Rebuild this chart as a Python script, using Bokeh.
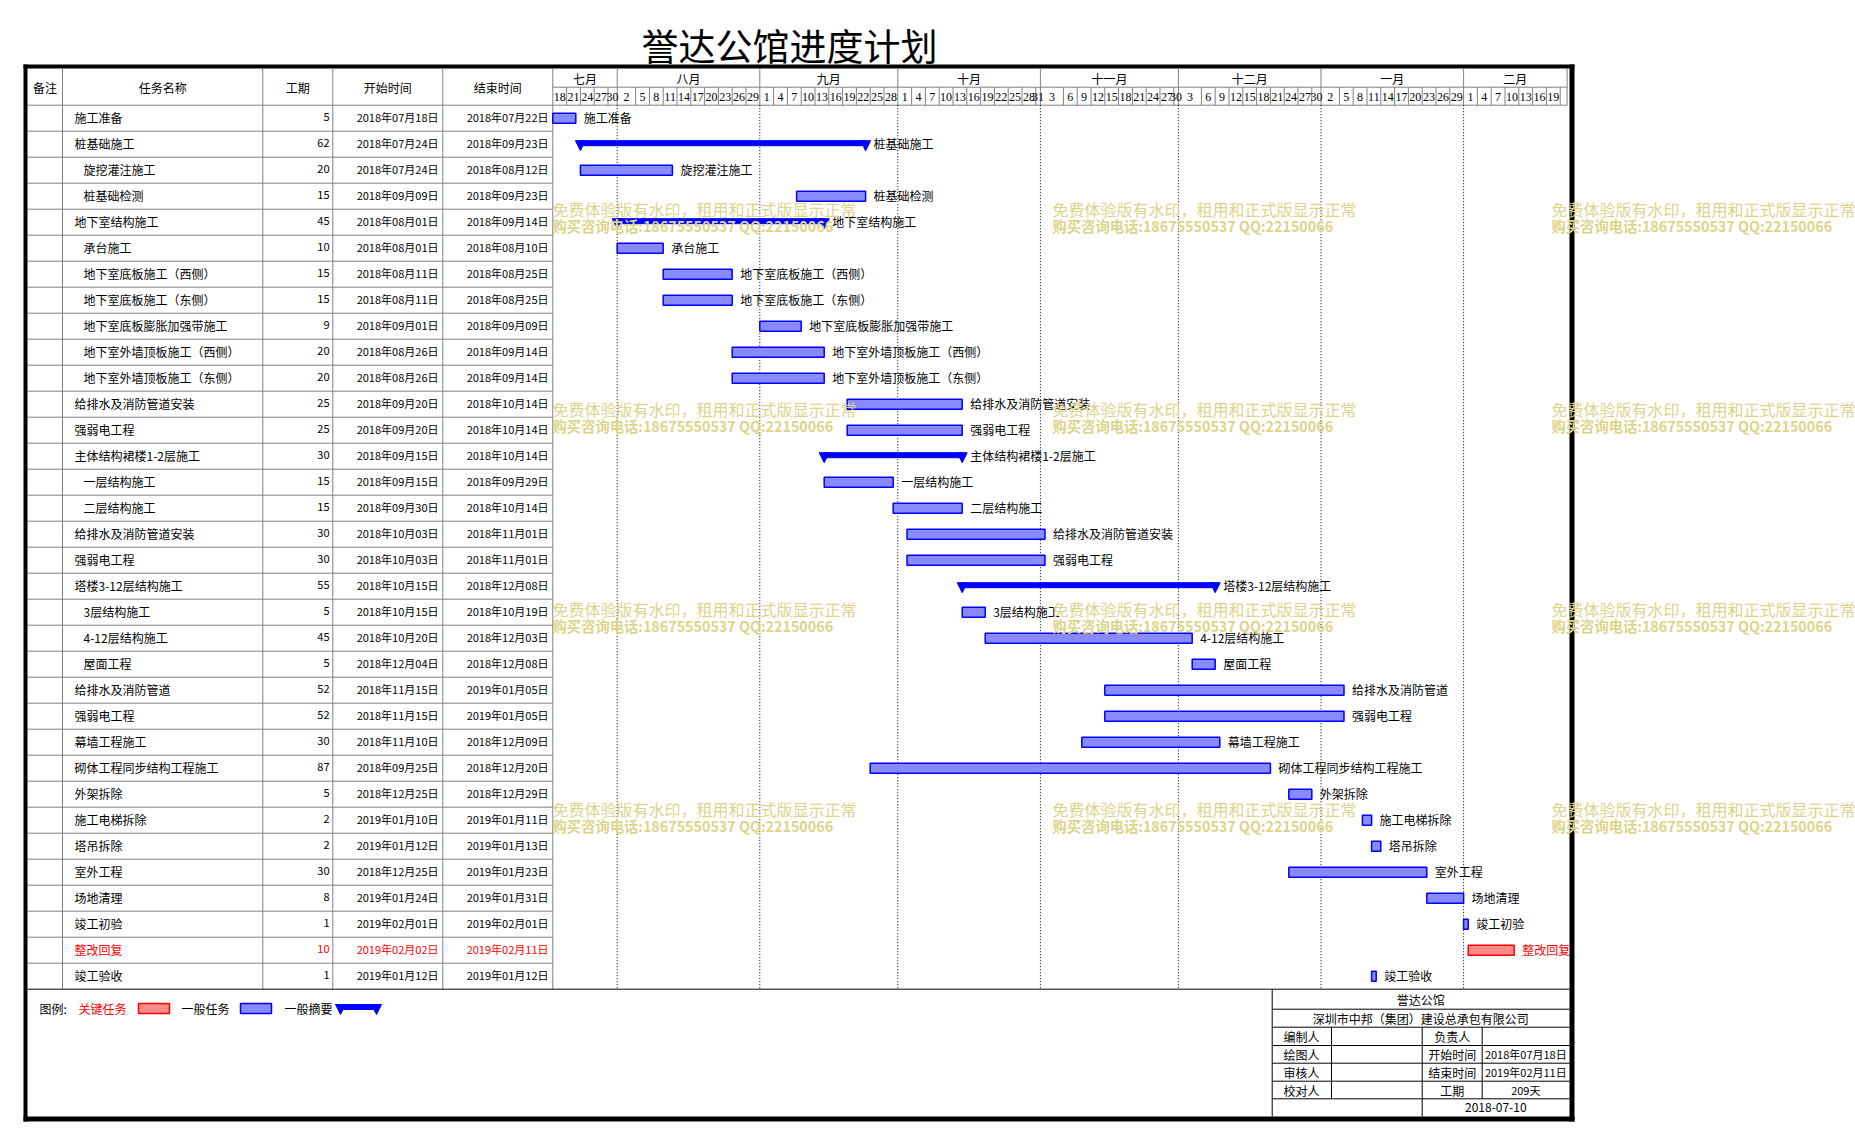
import datetime as dt
from bokeh.plotting import figure
from bokeh.models import Range1d
from bokeh.embed import file_html
from bokeh.resources import INLINE
from bokeh.core.properties import value

# ---------------- data ----------------
chart_title = "誉达公馆进度计划"
header_cols = ["备注", "任务名称", "工期", "开始时间", "结束时间"]

task_names = [
    "施工准备", "桩基础施工", "旋挖灌注施工", "桩基础检测", "地下室结构施工", "承台施工",
    "地下室底板施工（西侧）", "地下室底板施工（东侧）", "地下室底板膨胀加强带施工",
    "地下室外墙顶板施工（西侧）", "地下室外墙顶板施工（东侧）", "给排水及消防管道安装",
    "强弱电工程", "主体结构裙楼1-2层施工", "一层结构施工", "二层结构施工",
    "给排水及消防管道安装", "强弱电工程", "塔楼3-12层结构施工", "3层结构施工",
    "4-12层结构施工", "屋面工程", "给排水及消防管道", "强弱电工程", "幕墙工程施工",
    "砌体工程同步结构工程施工", "外架拆除", "施工电梯拆除", "塔吊拆除", "室外工程",
    "场地清理", "竣工初验", "整改回复", "竣工验收",
]
task_levels = [0, 0, 1, 1, 0, 1, 1, 1, 1, 1, 1, 0, 0, 0, 1, 1, 0, 0, 0, 1,
               1, 1, 0, 0, 0, 0, 0, 0, 0, 0, 0, 0, 0, 0]
task_kinds = ["task", "summary", "task", "task", "summary", "task", "task", "task",
              "task", "task", "task", "task", "task", "summary", "task", "task",
              "task", "task", "summary", "task", "task", "task", "task", "task",
              "task", "task", "task", "task", "task", "task", "task", "task",
              "critical", "task"]
durations = [5, 62, 20, 15, 45, 10, 15, 15, 9, 20, 20, 25, 25, 30, 15, 15, 30, 30,
             55, 5, 45, 5, 52, 52, 30, 87, 5, 2, 2, 30, 8, 1, 10, 1]
start_dates = [
    "2018-07-18", "2018-07-24", "2018-07-24", "2018-09-09", "2018-08-01", "2018-08-01",
    "2018-08-11", "2018-08-11", "2018-09-01", "2018-08-26", "2018-08-26", "2018-09-20",
    "2018-09-20", "2018-09-15", "2018-09-15", "2018-09-30", "2018-10-03", "2018-10-03",
    "2018-10-15", "2018-10-15", "2018-10-20", "2018-12-04", "2018-11-15", "2018-11-15",
    "2018-11-10", "2018-09-25", "2018-12-25", "2019-01-10", "2019-01-12", "2018-12-25",
    "2019-01-24", "2019-02-01", "2019-02-02", "2019-01-12",
]
end_dates = [
    "2018-07-22", "2018-09-23", "2018-08-12", "2018-09-23", "2018-09-14", "2018-08-10",
    "2018-08-25", "2018-08-25", "2018-09-09", "2018-09-14", "2018-09-14", "2018-10-14",
    "2018-10-14", "2018-10-14", "2018-09-29", "2018-10-14", "2018-11-01", "2018-11-01",
    "2018-12-08", "2018-10-19", "2018-12-03", "2018-12-08", "2019-01-05", "2019-01-05",
    "2018-12-09", "2018-12-20", "2018-12-29", "2019-01-11", "2019-01-13", "2019-01-23",
    "2019-01-31", "2019-02-01", "2019-02-11", "2019-01-12",
]
month_names = ["七月", "八月", "九月", "十月", "十一月", "十二月", "一月", "二月"]
month_starts = ["2018-07-18", "2018-08-01", "2018-09-01", "2018-10-01", "2018-11-01",
                "2018-12-01", "2019-01-01", "2019-02-01"]
timeline_start = "2018-07-18"
timeline_days = 220.5
tick_step_days = 3

legend_title = "图例:"
legend_labels = ["关键任务", "一般任务", "一般摘要"]

info_title = "誉达公馆"
info_company = "深圳市中邦（集团）建设总承包有限公司"
info_left_labels = ["编制人", "绘图人", "审核人", "校对人"]
info_right_labels = ["负责人", "开始时间", "结束时间", "工期"]
info_right_values = ["", "2018年07月18日", "2019年02月11日", "209天"]
info_date = "2018-07-10"

watermark_line1 = "免费体验版有水印，租用和正式版显示正常"
watermark_line2 = "购买咨询电话:18675550537 QQ:22150066"

# ---------------- layout helpers ----------------
FONT = value("Noto Sans CJK SC")
FIG_W, FIG_H = 1855, 1132
ORG = 0
X0, PPD = 552.3, 4.6       # screen x of timeline start, px per day
Y0, RH = 104.7, 26.0       # screen y of first row top, row height


def dx(px):
    return (px - X0) / PPD


def ry(py):
    return (py - Y0) / RH


def pd(s):
    return dt.date.fromisoformat(s)


T0 = pd(timeline_start)


def day(s):
    return (pd(s) - T0).days


def fmt(s):
    d = pd(s)
    return f"{d.year}年{d.month:02d}月{d.day:02d}日"


p = figure(width=FIG_W, height=FIG_H, x_range=Range1d(dx(ORG), dx(ORG + FIG_W)),
           y_range=Range1d(ry(ORG + FIG_H), ry(ORG)), output_backend="svg",
           toolbar_location=None, x_axis_type=None, y_axis_type=None, min_border=0)
p.grid.visible = False
p.outline_line_color = None
p.background_fill_color = "white"
p.border_fill_color = "white"

# ---------------- title ----------------
p.text(x=[dx(789)], y=[ry(44)], text=[chart_title], text_font=FONT, text_font_size="37px",
       text_align="center", text_baseline="middle", text_color="black")

n = len(task_names)
HEAD_TOP, HEAD_MID = 68.3, 86.7
TABLE_BOT = Y0 + n * RH
col_edges = [27, 62, 262.3, 332.3, 442.3, 552.3]

GRAY = "#808080"
# table vertical lines
vx = [dx(c) for c in col_edges[1:]]
p.segment(x0=vx, y0=[ry(HEAD_TOP)] * len(vx), x1=vx, y1=[ry(TABLE_BOT)] * len(vx),
          line_color=GRAY, line_width=1)
# table horizontal lines
hy = [i for i in range(n)]
p.segment(x0=[dx(27)] * n, y0=hy, x1=[dx(X0)] * n, y1=hy, line_color=GRAY, line_width=1)
p.segment(x0=[dx(27)], y0=[n], x1=[dx(1569)], y1=[n], line_color="black", line_width=1)
# header horizontal lines in timeline
p.segment(x0=[0, 0], y0=[ry(HEAD_MID), 0], x1=[timeline_days, timeline_days],
          y1=[ry(HEAD_MID), 0], line_color=GRAY, line_width=1)
p.segment(x0=[timeline_days], y0=[ry(HEAD_TOP)], x1=[timeline_days], y1=[0],
          line_color=GRAY, line_width=1)

# month header
ms_days = [day(s) for s in month_starts]
me_days = ms_days[1:] + [timeline_days]
p.segment(x0=ms_days[1:], y0=[ry(HEAD_TOP)] * 7, x1=ms_days[1:], y1=[ry(HEAD_MID)] * 7,
          line_color=GRAY, line_width=1)
p.text(x=[(a + b) / 2 for a, b in zip(ms_days, me_days)], y=[ry(77.8)] * len(month_names),
       text=month_names, text_font=FONT, text_font_size="12px", text_align="center",
       text_baseline="middle", text_color="black")

# day ticks
tick_days = list(range(0, int(timeline_days) + 1, tick_step_days))
cell_edges = []
tick_label_x, tick_label_t = [], []
for k, td in enumerate(tick_days):
    d = T0 + dt.timedelta(days=td)
    nxt = td + tick_step_days
    left = td
    if d.day <= tick_step_days and td > 0:
        left = day(f"{d.year}-{d.month:02d}-01")
    right = min(nxt, timeline_days)
    nd = T0 + dt.timedelta(days=nxt)
    if nd.day <= tick_step_days:
        right = min(right, day(f"{nd.year}-{nd.month:02d}-01"))
    if nxt <= timeline_days:
        tick_label_x.append((left + right) / 2)
        tick_label_t.append(str(d.day))
    cell_edges.append(right)
cell_edges = sorted(set(e for e in cell_edges if 0 < e < timeline_days) | set(ms_days[1:]))
p.segment(x0=cell_edges, y0=[ry(HEAD_MID)] * len(cell_edges), x1=cell_edges,
          y1=[0] * len(cell_edges), line_color=GRAY, line_width=1)
p.text(x=tick_label_x, y=[ry(96)] * len(tick_label_x), text=tick_label_t,
       text_font=value("Liberation Serif"), text_font_size="12px", text_align="center",
       text_baseline="middle", text_color="black")

# dotted month lines
p.segment(x0=ms_days[1:], y0=[0] * 7, x1=ms_days[1:], y1=[n] * 7, line_color="black",
          line_width=1, line_dash="1 2")

# header texts
head_x = [(a + b) / 2 for a, b in zip(col_edges[:-1], col_edges[1:])]
p.text(x=[dx(h) for h in head_x], y=[ry(87.3)] * 5, text=header_cols, text_font=FONT,
       text_font_size="12px", text_align="center", text_baseline="middle",
       text_color="black")

# table rows
rows_y = [i + 0.47 for i in range(n)]
colors = ["red" if k == "critical" else "black" for k in task_kinds]
p.text(x=[dx(74 if lv == 0 else 83) for lv in task_levels], y=rows_y, text=task_names,
       text_font=FONT, text_font_size="12px", text_align="left", text_baseline="middle",
       text_color=colors)
p.text(x=[dx(329)] * n, y=rows_y, text=[str(d) for d in durations], text_font=FONT,
       text_font_size="11px", text_align="right", text_baseline="middle", text_color=colors)
p.text(x=[dx(438)] * n, y=rows_y, text=[fmt(s) for s in start_dates], text_font=FONT,
       text_font_size="11px", text_align="right", text_baseline="middle", text_color=colors)
p.text(x=[dx(548)] * n, y=rows_y, text=[fmt(s) for s in end_dates], text_font=FONT,
       text_font_size="11px", text_align="right", text_baseline="middle", text_color=colors)

# ---------------- bars ----------------
BH = 5 / RH
starts = [day(s) for s in start_dates]
ends = [s + d for s, d in zip(starts, durations)]
for kind, fill, line in [("task", "#8a8aff", "blue"), ("critical", "#ff8a8a", "red")]:
    idx = [i for i in range(n) if task_kinds[i] == kind]
    p.quad(left=[starts[i] for i in idx], right=[ends[i] for i in idx],
           top=[i + 0.5 - BH for i in idx], bottom=[i + 0.5 + BH for i in idx],
           fill_color=fill, line_color=line, line_width=1.5)

sidx = [i for i in range(n) if task_kinds[i] == "summary"]
p.quad(left=[starts[i] for i in sidx], right=[ends[i] for i in sidx],
       top=[i + 0.5 - 3.5 / RH for i in sidx], bottom=[i + 0.5 + 1.5 / RH for i in sidx],
       fill_color="blue", line_color="blue", line_width=1)
tri_xs, tri_ys = [], []
for i in sidx:
    for xe in (starts[i], ends[i]):
        tri_xs.append([xe - 5 / PPD, xe + 5 / PPD, xe])
        t = i + 0.5 - 3.5 / RH
        tri_ys.append([t, t, t + 10 / RH])
p.patches(xs=tri_xs, ys=tri_ys, fill_color="blue", line_color="blue", line_width=1)

# bar labels
p.text(x=[e + 8 / PPD for e in ends], y=rows_y, text=task_names, text_font=FONT,
       text_font_size="12px", text_align="left", text_baseline="middle", text_color=colors)

# ---------------- legend ----------------
LY = 1008
p.text(x=[dx(39)], y=[ry(LY)], text=[legend_title], text_font=FONT, text_font_size="12px",
       text_align="left", text_baseline="middle", text_color="black")
p.text(x=[dx(78), dx(181), dx(284)], y=[ry(LY)] * 3, text=legend_labels, text_font=FONT,
       text_font_size="12px", text_align="left", text_baseline="middle",
       text_color=["red", "black", "black"])
p.quad(left=[dx(138), dx(240)], right=[dx(169), dx(271)], top=[ry(LY - 5)] * 2,
       bottom=[ry(LY + 5)] * 2, fill_color=["#ff8a8a", "#8a8aff"], line_color=["red", "blue"],
       line_width=1.5)
p.quad(left=[dx(340)], right=[dx(376)], top=[ry(LY - 4)], bottom=[ry(LY + 1)],
       fill_color="blue", line_color="blue")
p.patches(xs=[[dx(335), dx(345), dx(340)], [dx(371), dx(381), dx(376)]],
          ys=[[ry(LY - 4), ry(LY - 4), ry(LY + 6)]] * 2, fill_color="blue", line_color="blue")

# ---------------- info box ----------------
IB_L, IB_R = 1271.7, 1569
ib_rows = [989, 1008.7, 1026.7, 1045, 1062.7, 1080.7, 1098.3, 1116]
p.segment(x0=[dx(IB_L)] * 6, y0=[ry(v) for v in ib_rows[1:7]], x1=[dx(IB_R)] * 6,
          y1=[ry(v) for v in ib_rows[1:7]], line_color="black", line_width=1)
p.segment(x0=[dx(IB_L), dx(1331), dx(1421.7), dx(1481.7)],
          y0=[ry(989), ry(1026.7), ry(1026.7), ry(1026.7)],
          x1=[dx(IB_L), dx(1331), dx(1421.7), dx(1481.7)],
          y1=[ry(1116), ry(1098.3), ry(1116), ry(1098.3)], line_color="black", line_width=1)
cx = (IB_L + IB_R) / 2
p.text(x=[dx(cx), dx(cx)], y=[ry(999), ry(1017.7)], text=[info_title, info_company],
       text_font=FONT, text_font_size="12px", text_align="center", text_baseline="middle",
       text_color="black")
rc = [(a + b) / 2 for a, b in zip(ib_rows[2:6], ib_rows[3:7])]
p.text(x=[dx(1283)] * 4, y=[ry(v) for v in rc], text=info_left_labels, text_font=FONT,
       text_font_size="12px", text_align="left", text_baseline="middle", text_color="black")
p.text(x=[dx(1451.7)] * 4, y=[ry(v) for v in rc], text=info_right_labels, text_font=FONT,
       text_font_size="12px", text_align="center", text_baseline="middle", text_color="black")
p.text(x=[dx(1525.3)] * 4, y=[ry(v) for v in rc], text=info_right_values, text_font=FONT,
       text_font_size="11px", text_align="center", text_baseline="middle", text_color="black")
p.text(x=[dx(1495.3)], y=[ry(1107.2)], text=[info_date], text_font=FONT,
       text_font_size="12px", text_align="center", text_baseline="middle", text_color="black")

# ---------------- frame ----------------
p.quad(left=[dx(23), dx(23), dx(1569), dx(23)], right=[dx(27), dx(1574), dx(1574), dx(1574)],
       top=[ry(64), ry(64), ry(64), ry(1116)], bottom=[ry(1121), ry(68), ry(1121), ry(1121)],
       fill_color="black", line_color=None)

# ---------------- watermarks ----------------
wm_x, wm_y1, wm_y2 = [], [], []
for yy in (208, 408, 608, 808):
    for xx in (552, 1052, 1551):
        wm_x.append(dx(xx))
        wm_y1.append(ry(yy))
        wm_y2.append(ry(yy + 17))
p.text(x=wm_x, y=wm_y1, text=[watermark_line1] * len(wm_x), text_font=FONT,
       text_font_size="16px", text_align="left", text_baseline="middle",
       text_color="#ddd48a")
p.text(x=wm_x, y=wm_y2, text=[watermark_line2] * len(wm_x), text_font=FONT,
       text_font_size="14.3px", text_font_style="bold", text_align="left",
       text_baseline="middle", text_color="#ddd48a")

open("out.html", "w").write(file_html(p, INLINE))
